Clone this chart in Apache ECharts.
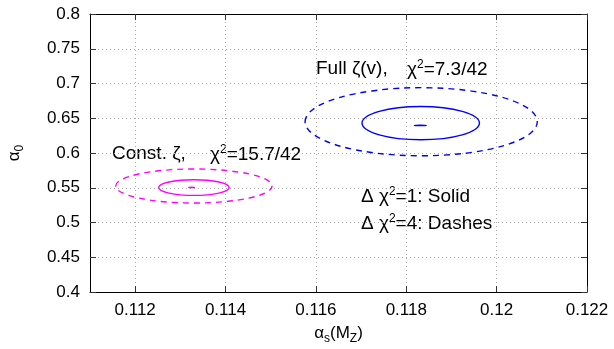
<!DOCTYPE html>
<html>
<head>
<meta charset="utf-8">
<script src="https://cdn.jsdelivr.net/npm/echarts@6/dist/echarts.min.js"></script>
<style>html,body{margin:0;padding:0;background:#fff}#c{width:614px;height:349px}</style>
</head>
<body>
<div id="c"></div>
<script>
// ---- data ----
const fitNames = ['Full ζ(v)', 'Const. ζ'];
const fitChi2 = ['7.3/42', '15.7/42'];
const fitColors = ['#0000ff', '#ff00ff'];
// best-fit centre marks
const bestAlphaS = [0.11831, 0.11325];
const bestAlpha0 = [0.6397, 0.5505];
const bestHalfW = [0.00013, 0.00006];
const bestHalfH = [0.0002, 0.0002];
// Δχ²=1 (solid) contours
const solidAlphaS = [0.11832, 0.11330];
const solidAlpha0 = [0.6430, 0.5503];
const solidHalfW = [0.00130, 0.00078];
const solidHalfH = [0.0240, 0.0113];
// Δχ²=4 (dashed) contours
const dashAlphaS = [0.11833, 0.11330];
const dashAlpha0 = [0.6450, 0.5525];
const dashHalfW = [0.00257, 0.00173];
const dashHalfH = [0.0490, 0.0245];
// axes
const xTicks = [0.112, 0.114, 0.116, 0.118, 0.120, 0.122];
const xMin = 0.111, xMax = 0.122;
const yMin = 0.4, yMax = 0.8, yStep = 0.05;

const FONT = 'Liberation Sans';
const fmt = v => String(+(+v).toFixed(3));

function ellipseSeries(name, cx, cy, hw, hh, color, dashed, lw) {
  return {
    type: 'custom', name: name,
    xAxisIndex: 0, yAxisIndex: 0,
    silent: true, clip: false,
    data: cx.map((x, i) => [x, cy[i], hw[i], hh[i], i]),
    renderItem: function (params, api) {
      const c = api.coord([api.value(0), api.value(1)]);
      const s = api.size([api.value(2), api.value(3)]);
      const i = api.value(4);
      return {
        type: 'ellipse',
        shape: { cx: c[0], cy: c[1], rx: s[0], ry: s[1] },
        style: { fill: 'none', stroke: color[i], lineWidth: lw, lineDash: dashed ? [6, 5] : null }
      };
    }
  };
}

const supRich = {
  n: { fontFamily: FONT, fontSize: 19, lineHeight: 20, verticalAlign: 'bottom', color: '#000' },
  s: { fontFamily: FONT, fontSize: 12, lineHeight: 14, verticalAlign: 'top', color: '#000' }
};
function txt(left, top, text) {
  return { type: 'text', left: left, top: top, style: { text: text, rich: supRich } };
}

const chart = echarts.init(document.getElementById('c'));
chart.setOption({
  backgroundColor: '#fff',
  animation: false,
  grid: { left: 90, right: 27, top: 14, bottom: 57, containLabel: false, outerBoundsMode: 'none' },
  xAxis: [{
    type: 'value', min: xMin, max: xMax, position: 'bottom',
    name: '{n|α}{b|s}{n|(M}{b|Z}{n|)}', nameLocation: 'middle', nameGap: 33,
    nameTextStyle: { rich: {
      n: { fontFamily: FONT, fontSize: 17, lineHeight: 20, verticalAlign: 'top', color: '#000' },
      b: { fontFamily: FONT, fontSize: 12, lineHeight: 12, verticalAlign: 'bottom', color: '#000' } } },
    axisLine: { show: true, onZero: false, lineStyle: { color: '#000', width: 1 } },
    axisTick: { show: true, inside: true, length: 6, customValues: xTicks, lineStyle: { color: '#333' } },
    axisLabel: { customValues: xTicks, formatter: fmt, margin: 10, fontFamily: FONT, fontSize: 17, color: '#000' },
    splitLine: { show: true, lineStyle: { color: '#aaa', type: [1, 3], width: 1 } }
  }, {
    type: 'value', min: xMin, max: xMax, position: 'top',
    axisLine: { show: true, onZero: false, lineStyle: { color: '#000', width: 1 } },
    axisTick: { show: true, inside: true, length: 6, customValues: xTicks, lineStyle: { color: '#333' } },
    axisLabel: { show: false }, splitLine: { show: false }
  }],
  yAxis: [{
    type: 'value', min: yMin, max: yMax, interval: yStep, position: 'left',
    name: '{n|α}{b|0}', nameLocation: 'middle', nameGap: 64, nameRotate: 90,
    nameTextStyle: { rich: {
      n: { fontFamily: FONT, fontSize: 17, lineHeight: 20, verticalAlign: 'top', color: '#000' },
      b: { fontFamily: FONT, fontSize: 12, lineHeight: 12, verticalAlign: 'bottom', color: '#000' } } },
    axisLine: { show: true, onZero: false, lineStyle: { color: '#000', width: 1 } },
    axisTick: { show: true, inside: true, length: 6, lineStyle: { color: '#333' } },
    axisLabel: { formatter: fmt, margin: 10, fontFamily: FONT, fontSize: 17, color: '#000' },
    splitLine: { show: true, lineStyle: { color: '#aaa', type: [1, 3], width: 1 } }
  }, {
    type: 'value', min: yMin, max: yMax, interval: yStep, position: 'right',
    axisLine: { show: true, onZero: false, lineStyle: { color: '#000', width: 1 } },
    axisTick: { show: true, inside: true, length: 6, lineStyle: { color: '#333' } },
    axisLabel: { show: false }, splitLine: { show: false }
  }],
  series: [
    ellipseSeries('dashed', dashAlphaS, dashAlpha0, dashHalfW, dashHalfH, fitColors, true, 1.4),
    ellipseSeries('solid', solidAlphaS, solidAlpha0, solidHalfW, solidHalfH, fitColors, false, 1.4),
    ellipseSeries('best', bestAlphaS, bestAlpha0, bestHalfW, bestHalfH, fitColors, false, 1.6)
  ],
  graphic: [
    txt(316, 59, '{n|' + fitNames[0] + ',}'),
    txt(407, 59, '{n|χ}{s|2}{n|=' + fitChi2[0] + '}'),
    txt(112, 144, '{n|' + fitNames[1] + ',}'),
    txt(210, 144, '{n|χ}{s|2}{n|=' + fitChi2[1] + '}'),
    txt(361, 186, '{n|Δ χ}{s|2}{n|=1: Solid}'),
    txt(361, 213, '{n|Δ χ}{s|2}{n|=4: Dashes}')
  ]
});
</script>
</body>
</html>
